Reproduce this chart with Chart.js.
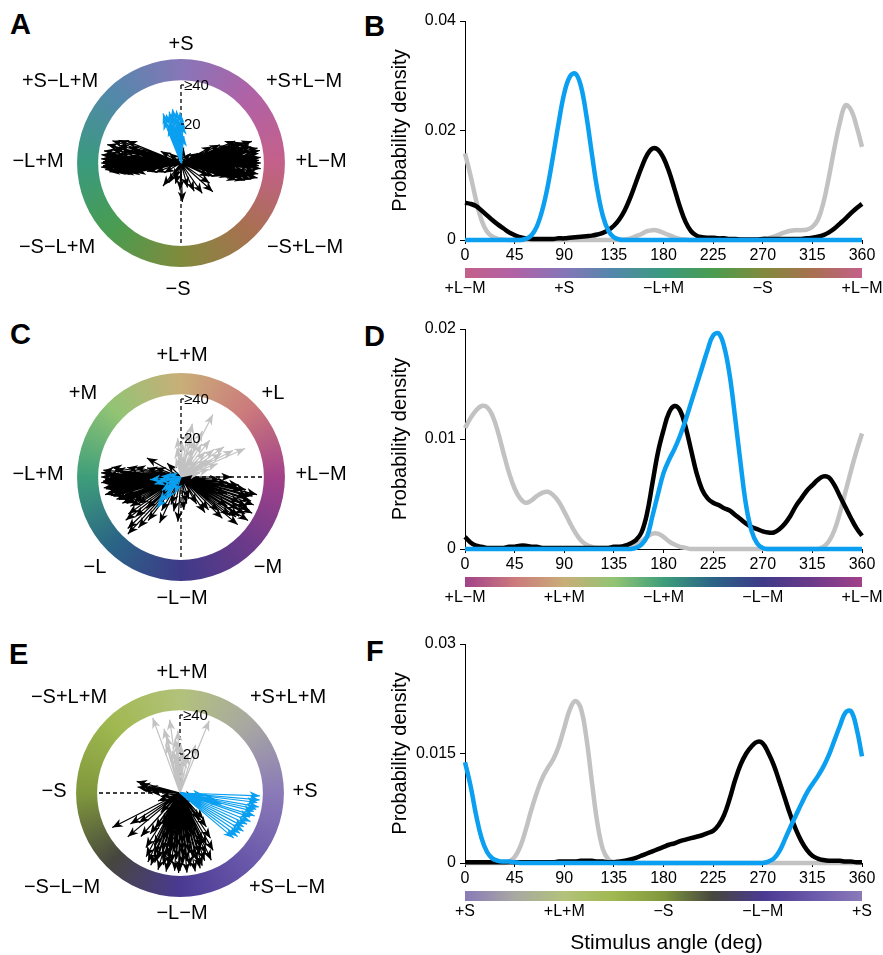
<!DOCTYPE html>
<html>
<head>
<meta charset="utf-8">
<title>Cone-contrast tuning</title>
<script src="https://cdn.jsdelivr.net/npm/chart.js"></script>
<style>
  html, body { margin: 0; padding: 0; background: #fff; }
  body { width: 883px; height: 955px; position: relative; overflow: hidden; font-family: 'Liberation Sans', Arial, sans-serif; }
  canvas { position: absolute; }
  .tag { position: absolute; font-weight: bold; font-size: 29px; line-height: 30px; }
</style>
</head>
<body>
<div class="tag" style="left:10px;top:9px">A</div>
<div class="tag" style="left:364px;top:11px">B</div>
<div class="tag" style="left:10px;top:319px">C</div>
<div class="tag" style="left:364px;top:321px">D</div>
<div class="tag" style="left:9px;top:639px">E</div>
<div class="tag" style="left:366px;top:636px">F</div>
<canvas id="polarA"></canvas>
<canvas id="polarC"></canvas>
<canvas id="polarE"></canvas>
<canvas id="densB"></canvas>
<canvas id="densD"></canvas>
<canvas id="densF"></canvas>
<script>
// ---- data ----
// stimulus angle grid for the density curves (deg)
const angles = [];
for (let a = 0; a <= 360; a += 5) angles.push(a);
const xTicks = [0, 45, 90, 135, 180, 225, 270, 315, 360];

// B: S vs L-M plane
const blueB = [0,0,0,0,0,0,0,0,0,0,0,0.0002,0.0008,0.0024,0.0054,0.0098,0.0155,0.0215,0.0268,0.0298,0.0304,0.0282,0.0228,0.0158,0.0092,0.0044,0.0017,0.0005,0.0001,
  0,0,0,0,0,0,0,0,0,0,0,0,0,0,0,0,0,0,0,0,0,0,0,0,0,0,0,0,0,0,0,0,0,0,0,0,0,0,0,0,0,0,0,0];
const blackB = [0.0068,0.0066,0.0062,0.0054,0.0045,0.0036,0.0028,0.0021,0.0014,0.0009,0.0005,0.0003,0.0002,0.0002,0.0002,0.0002,0.0002,0.0003,0.0003,0.0004,0.0005,0.0006,0.0007,0.0008,0.001,0.0013,0.0018,0.0026,0.0038,0.0055,0.0078,0.0105,0.0132,0.0155,0.0167,0.0165,0.015,0.0125,0.0093,0.006,0.0033,0.0016,0.0008,0.0005,0.0004,0.0004,0.0003,0.0003,0.0002,0.0002,0.0001,0.0001,0.0001,0.0001,0.0002,0.0002,0.0002,0.0002,0.0002,0.0002,0.0002,0.0002,0.0003,0.0004,0.0006,0.0009,0.0014,0.0021,0.003,0.0039,0.0049,0.0058,0.0066];
const grayB = [0.0158,0.0118,0.0073,0.0036,0.0015,0.0006,0.0002,0.0001,0,
  0,0,0,0,0,0,0,0,0,0,0,0,0,0,0,0,0,0,0,0,
  0.0001,0.0003,0.0007,0.0011,0.0016,0.0018,0.0017,0.0013,0.0009,0.0005,0.0002,0.0001,
  0,0,0,0,0,0,0,0,0,0,0,0,0,
  0.0001,0.0003,0.0006,0.001,0.0014,0.0017,0.0018,0.0018,0.0019,0.0024,0.0037,0.0068,0.0115,0.0168,0.0215,0.0246,0.0238,0.0208,0.017];
const yTicksB = [0, 0.02, 0.04];

// D: L-M vs L+M plane
const blueD = [0,0,0,0,0,0,0,0,0,0,0,0,0,0,0,0,0,0,0,0,0,0,0,0,0,0,0,0,0,0,0,
  0.0001,0.0004,0.0011,0.003,0.005,0.0069,0.0081,0.0091,0.0103,0.0117,0.0133,0.0149,0.0165,0.0181,0.0194,0.0196,0.0184,0.0158,0.0119,0.0077,0.0039,0.0016,0.0005,0.0001,0,
  0,0,0,0,0,0,0,0,0,0,0,0,0,0,0,0,0];
const blackD = [0.0011,0.0006,0.0003,0.0002,0.0001,0.0001,0.0001,0.0001,0.0002,0.0002,0.0003,0.0003,0.0002,0.0002,0.0001,0.0001,0.0001,0.0001,0.0001,0.0001,0.0001,0.0001,0.0001,0.0001,0.0001,0.0001,0.0001,0.0002,0.0002,0.0003,0.0005,0.0008,0.0015,0.0032,0.006,0.0088,0.0108,0.0124,0.013,0.0126,0.0111,0.009,0.0069,0.0054,0.0046,0.0042,0.004,0.0037,0.0035,0.0031,0.0027,0.0023,0.002,0.0018,0.0016,0.0015,0.0015,0.0018,0.0023,0.003,0.0039,0.0046,0.0053,0.0058,0.0063,0.0066,0.0065,0.0058,0.0048,0.0038,0.0028,0.0019,0.0012];
const grayD = [0.011,0.0119,0.0126,0.013,0.0129,0.0121,0.0106,0.0087,0.0069,0.0055,0.0046,0.0042,0.0044,0.0048,0.0051,0.0052,0.0049,0.0043,0.0034,0.0024,0.0015,0.0008,0.0004,0.0002,0.0001,0.0001,0.0001,0.0001,0.0001,0.0001,0.0002,0.0004,0.0007,0.0011,0.0014,0.0014,0.0011,0.0007,0.0004,0.0002,0.0001,
  0,0,0,0,0,0,0,0,0,0,0,0,0,0,0,0,0,0,0,0,0,0,0,0,
  0.0002,0.0007,0.0017,0.0033,0.0052,0.0071,0.0089,0.0105];
const yTicksD = [0, 0.01, 0.02];

// F: S vs L+M plane
const blueF = [0.0138,0.0106,0.0066,0.0034,0.0015,0.0006,0.0003,0.0002,0.0002,0.0001,
  0,0,0,0,0,0,0,0,0,0,0,0,0,0,0,0,0,0,0,0,0,0,0,0,0,0,0,0,0,0,0,0,0,0,0,0,0,0,0,0,0,0,0,0,0,
  0.0002,0.0006,0.0016,0.0032,0.0049,0.0065,0.0081,0.0096,0.0108,0.0119,0.0132,0.0148,0.0168,0.0188,0.0206,0.0208,0.0185,0.0146];
const grayF = [0,0,0,0,0,0,0,0,
  0.0002,0.0008,0.0022,0.0045,0.0072,0.0096,0.0116,0.013,0.0142,0.016,0.0185,0.021,0.0222,0.0212,0.0172,0.0112,0.0055,0.0019,0.0005,0.0001,
  0,0,0,0,0,0,0,0,0,0,0,0,0,0,0,0,0,0,0,0,0,0,0,0,0,0,0,0,0,0,0,0,0,0,0,0,0,0,0,0,0,0,0,0,0];
const blackF = [0.0001,0.0001,0.0001,0.0001,0.0001,0.0001,0.0001,0.0001,0.0001,0.0001,0.0001,0.0001,0.0001,0.0001,0.0001,0.0001,0.0001,0.0002,0.0002,0.0002,0.0002,0.0003,0.0003,0.0003,0.0002,0.0002,0.0001,0.0001,0.0002,0.0003,0.0005,0.0007,0.001,0.0013,0.0016,0.0019,0.0022,0.0025,0.0027,0.003,0.0032,0.0034,0.0036,0.0038,0.0041,0.0044,0.0052,0.0066,0.0088,0.0114,0.0135,0.015,0.016,0.0166,0.0164,0.0151,0.0134,0.0112,0.0089,0.0066,0.0046,0.003,0.0018,0.001,0.0006,0.0004,0.0003,0.0003,0.0003,0.0002,0.0002,0.0001,0.0001];
const yTicksF = [0, 0.015, 0.03];

// preferred-direction arrows: [angle deg, length]
const blackA = [[158,30],[160,34],[162,37],[164,33],[166,39],[168,30],[169,36],[171,40],[172,26],[173,34],[174,41],[175,38],[176,30],[177,41],[178,36],[179,40],[180,41],[181,38],[182,35],[183,41],[184,32],[185,39],[186,36],[187,28],[188,34],[190,30],[192,24],[194,18],[170,20],[176,16],[165,24],[180,28],[184,22],[172,14],
  [171,32],[173,38],[176,36],[178,39],[180,35],[182,40],[185,33],[187,37],[189,32],[191,27],[175,24],[179,33],[183,37],[167,35],[163,28],
  [0,41],[1,36],[2,40],[3,32],[4,41],[5,38],[6,34],[7,40],[8,30],[9,38],[10,35],[11,40],[12,32],[13,37],[14,28],[15,36],[16,30],[18,34],[20,26],[22,30],[25,22],[28,18],[358,40],[356,41],[354,38],[352,40],[350,36],[348,33],[346,30],[344,26],[342,22],[338,18],[5,24],[10,20],[355,28],[2,18],
  [1,39],[3,38],[5,35],[7,33],[9,41],[11,30],[13,34],[357,36],[353,33],[351,38],[349,40],[347,37],[345,34],[343,30],[359,38],[4,28],[17,38],[19,31],
  [272,20],[268,14],[232,15],[238,12],[245,9],[255,11],[285,13],[295,16],[305,19],[318,22],[325,18],[335,16],[210,10],[200,14],[150,12],[140,8],[30,10],[45,7],[100,6],[80,8]];
const blueA = [[84,14],[87,20],[89,23],[91,26],[93,22],[95,27],[97,24],[99,28],[101,25],[103,27],[105,22],[107,26],[109,20],[96,18],[100,16],[92,16],[104,18],[112,24],[110,27]];

const blackC = [[151,20],[0,26],
  [172,36],[175,40],[178,38],[180,41],[182,39],[184,41],[186,37],[188,40],[190,35],[192,38],[194,33],[196,36],[198,30],[200,34],[203,28],[206,31],[176,30],[170,28],[168,24],[165,18],[183,25],[190,22],[197,20],[202,31],
  [174,34],[177,41],[179,37],[181,35],[183,40],[185,38],[187,34],[189,39],[191,36],[193,40],[195,37],[199,35],[201,30],[204,33],[208,27],[210,30],
  [215,33],[218,36],[221,31],[224,38],[227,40],[230,34],[233,28],[212,26],[222,24],
  [266,23],[258,18],[250,15],[275,17],[282,14],[240,20],[245,26],[290,12],[304,22],
  [300,16],[310,22],[318,26],[322,32],[326,36],[327,41],[330,38],[333,41],[336,37],[339,40],[342,35],[345,38],[348,32],[350,28],[353,24],[356,20],[315,30],[320,38],[328,28],[340,25],[345,20],
  [324,35],[331,34],[334,39],[337,33],[341,38],[344,36],[347,40],[349,34],[352,30],
  [10,8],[20,6],[135,10],[160,14]];
const grayC = [[63,36],[24,36],[95,20],[98,15],[88,18],[82,24],[75,21],[69,16],[69,20],[58,20],[52,24],[46,18],[40,22],[35,27],[30,24],[29,18],[27,30],[20,20],[15,15],[12,10],[60,12],[90,12],[105,10],[78,28],[45,12],[33,16],[65,26],[80,10]];
const blueC = [[185,16],[190,12],[178,10],[195,14],[232,20],[228,17],[236,14],[222,11],[218,8],[205,8],[250,9],[215,12],[170,7]];

const blackE = [[172,22],[168,21],[175,19],[165,23],[170,17],[178,15],
  [207,39],[220,35],[212,30],[216,26],[228,30],[234,26],[238,33],[242,37],[245,39],[248,40],[251,36],[254,41],[257,38],[260,41],[263,36],[266,40],[269,41],[272,37],[275,41],[278,38],[281,41],[284,36],[287,39],[290,37],[293,34],[295,38],[297,30],[300,34],[304,28],[306,17],[308,22],[312,18],[340,8],[330,10],
  [250,26],[258,28],[265,24],[272,30],[280,26],[286,22],[255,20],[268,18],[278,15],[240,18],[292,16],[235,22],[246,14],[262,12],[285,10],[225,14],[200,12],[190,10],
  [244,30],[247,34],[250,38],[253,31],[256,35],[259,33],[261,38],[264,30],[267,34],[270,40],[273,33],[276,35],[279,31],[282,34],[285,40],[288,33],[291,30],[294,28],
  [252,22],[258,24],[264,20],[270,22],[276,20],[282,18],[288,24],[249,16],[261,30],[273,26],[267,28]];
const grayE = [[110,41],[98,38],[68,40],[104,34],[103,30],[95,28],[92,32],[93,26],[89,25],[86,22],[83,18],[100,22],[106,26],[97,20],[93,16],[88,14],[78,20],[72,26]];
const blueE = [[358,41],[355,41],[353,40],[350,41],[348,40],[346,39],[343,40],[341,38],[338,39],[335,38],[332,37],[329,38],[326,37],[323,37],[320,36],[345,22],[350,18],[356,12]];

// colour wheel stops (angle deg -> colour)
const wheelAngles = [0, 45, 90, 135, 180, 225, 270, 315];
const wheelSLM = ['#c4608a', '#b062a6', '#8676b8', '#5288aa', '#3a9a7e', '#4a9c50', '#808a3c', '#a87050'];
const wheelLM  = ['#a2428a', '#cc7a7c', '#c8ae78', '#92c474', '#3e9e7a', '#2a6486', '#3e3a88', '#6c3a8a'];
const wheelSLMsum = ['#8a7ab8', '#a8a8a2', '#b2c27a', '#a0b850', '#80983c', '#46463e', '#4a3a92', '#6a58aa'];

const labelsA = [['+S',0,-119],['+S−L+M',-121,-82],['+S+L−M',123,-82],['−L+M',-143,-2],['+L−M',140,-2],['−S−L+M',-124,84],['−S+L−M',124,84],['−S',-3,126]];
const labelsC = [['+L+M',1,-122],['+M',-98,-84],['+L',92,-84],['−L+M',-143,-3],['+L−M',140,-3],['−L',-86,90],['−M',87,90],['−L−M',1,121]];
const labelsE = [['+L+M',2,-121],['−S+L+M',-111,-96],['+S+L+M',108,-96],['−S',-126,-2],['+S',125,-2],['−S−L−M',-118,94],['+S−L−M',107,94],['−L−M',2,120]];

const barAngles = [0, 90, 180, 270, 360];
const barLabelsB = ['+L−M', '+S', '−L+M', '−S', '+L−M'];
const barLabelsD = ['+L−M', '+L+M', '−L+M', '−L−M', '+L−M'];
const barLabelsF = ['+S', '+L+M', '−S', '−L−M', '+S'];

// ---- drawing ----
const FONT = "'Liberation Sans', Arial, sans-serif";
Chart.defaults.font.family = FONT;
Chart.defaults.color = '#000';
const BLUE = '#0a9ff0', GRAY = '#c2c2c2';

function arrowData(list) {
  const d = [];
  list.forEach(([a, r]) => {
    const t = a * Math.PI / 180;
    d.push({x: 0, y: 0}, {x: r * Math.cos(t), y: r * Math.sin(t)}, {x: 0, y: null});
  });
  return d;
}

const arrowHeads = {
  id: 'arrowHeads',
  afterDatasetDraw(chart, args) {
    const ds = chart.data.datasets[args.index];
    if (!ds.arrowHead) return;
    const pts = args.meta.data, ctx = chart.ctx;
    ctx.save();
    ctx.fillStyle = ds.borderColor;
    for (let i = 0; i + 1 < pts.length; i += 3) {
      const a = pts[i], b = pts[i + 1];
      const ang = Math.atan2(b.y - a.y, b.x - a.x);
      const c = Math.cos(ang), s = Math.sin(ang);
      const L = 10.5, w = 4.2, n = 7.5;
      ctx.beginPath();
      ctx.moveTo(b.x, b.y);
      ctx.lineTo(b.x - L * c - w * s, b.y - L * s + w * c);
      ctx.lineTo(b.x - n * c, b.y - n * s);
      ctx.lineTo(b.x - L * c + w * s, b.y - L * s - w * c);
      ctx.closePath();
      ctx.fill();
    }
    ctx.restore();
  }
};

function polarChart(id, cx, cy, p) {
  const W = 362, H = 320, k = 1.95;
  const cv = document.getElementById(id);
  cv.width = W; cv.height = H;
  cv.style.left = (cx - W / 2) + 'px';
  cv.style.top = (cy - H / 2) + 'px';

  const arrowSet = (list, color) => ({
    data: arrowData(list), showLine: true, spanGaps: false, borderColor: color, backgroundColor: color,
    borderWidth: 1.2, pointRadius: 0, arrowHead: true, clip: false
  });
  const datasets = [];
  if (p.blue) datasets.push(arrowSet(p.blue, BLUE));
  if (p.gray) datasets.push(arrowSet(p.gray, GRAY));
  datasets.push(arrowSet(p.black, '#000'));
  datasets.push({data: p.axis, showLine: true, spanGaps: false, borderColor: '#000', borderWidth: 1.3,
    borderDash: [4, 3], pointRadius: 0, clip: false});

  const ring = {
    id: 'ring',
    beforeDatasetsDraw(chart) {
      const {ctx, scales: {x, y}} = chart;
      const ox = x.getPixelForValue(0), oy = y.getPixelForValue(0);
      const rIn = x.getPixelForValue(42.5) - ox, rOut = x.getPixelForValue(53.3) - ox;
      const g = ctx.createConicGradient(0, ox, oy);
      wheelAngles.forEach((a, i) => g.addColorStop(((360 - a) % 360) / 360, p.wheel[i]));
      g.addColorStop(1, p.wheel[0]);
      ctx.save();
      ctx.beginPath();
      ctx.arc(ox, oy, rOut, 0, 2 * Math.PI);
      ctx.arc(ox, oy, rIn, 0, 2 * Math.PI, true);
      ctx.fillStyle = g;
      ctx.fill();
      ctx.restore();
    },
    afterDraw(chart) {
      const {ctx, scales: {x, y}} = chart;
      const ox = x.getPixelForValue(0), oy = y.getPixelForValue(0);
      ctx.save();
      ctx.fillStyle = '#000';
      ctx.textBaseline = 'middle';
      ctx.font = '15px ' + FONT;
      ctx.textAlign = 'left';
      [[40, '≥40'], [20, '20']].forEach(([r, t]) => {
        const py = y.getPixelForValue(r);
        ctx.fillRect(ox, py - 0.6, 3, 1.2);
        ctx.fillText(t, ox + 3, py + 1);
      });
      ctx.font = '20px ' + FONT;
      ctx.textAlign = 'center';
      p.labels.forEach(([t, dx, dy]) => ctx.fillText(t, ox + dx, oy + dy));
      ctx.restore();
    }
  };

  new Chart(cv, {
    type: 'scatter',
    data: {datasets},
    options: {
      responsive: false, animation: false, events: [],
      layout: {padding: 0},
      plugins: {legend: {display: false}, tooltip: {enabled: false}},
      scales: {
        x: {type: 'linear', display: false, min: -W / 2 / k, max: W / 2 / k},
        y: {type: 'linear', display: false, min: -H / 2 / k, max: H / 2 / k}
      }
    },
    plugins: [ring, arrowHeads]
  });
}

function densityChart(id, p) {
  const left = 370, W = 513, padTop = 16;
  const H = padTop + (p.bottom - p.top) + p.xh;
  const cv = document.getElementById(id);
  cv.width = W; cv.height = H;
  cv.style.left = left + 'px';
  cv.style.top = (p.top - padTop) + 'px';

  const pts = vals => angles.map((a, i) => ({x: a, y: vals[i]}));
  const line = (vals, color) => ({
    data: pts(vals), borderColor: color, borderWidth: 4.5, pointRadius: 0,
    tension: 0.4, borderJoinStyle: 'round', clip: false
  });

  const bar = {
    id: 'colourBar',
    afterDraw(chart) {
      const {ctx, chartArea, scales: {x}} = chart;
      const x0 = x.getPixelForValue(0), x1 = x.getPixelForValue(360);
      const y0 = chartArea.bottom + 28;
      const g = ctx.createLinearGradient(x0, 0, x1, 0);
      wheelAngles.forEach((a, i) => g.addColorStop(a / 360, p.wheel[i]));
      g.addColorStop(1, p.wheel[0]);
      ctx.save();
      ctx.fillStyle = g;
      ctx.fillRect(x0, y0, x1 - x0, 10);
      ctx.fillStyle = '#000';
      ctx.font = '16px ' + FONT;
      ctx.textAlign = 'center';
      ctx.textBaseline = 'middle';
      barAngles.forEach((a, i) => ctx.fillText(p.barLabels[i], x.getPixelForValue(a), chartArea.bottom + 49));
      if (p.xTitle) {
        ctx.font = '21px ' + FONT;
        ctx.fillText(p.xTitle, (chartArea.left + chartArea.right) / 2 + 3, chartArea.bottom + 80);
      }
      ctx.restore();
    }
  };

  new Chart(cv, {
    type: 'line',
    data: {datasets: [line(p.blue, BLUE), line(p.black, '#000'), line(p.gray, GRAY)]},
    options: {
      responsive: false, animation: false, events: [],
      layout: {padding: {top: padTop, right: W - (862 - left), left: 0, bottom: 0}},
      plugins: {legend: {display: false}, tooltip: {enabled: false}},
      scales: {
        x: {
          type: 'linear', min: 0, max: 360,
          afterBuildTicks: s => { s.ticks = xTicks.map(v => ({value: v})); },
          afterFit: s => { s.height = p.xh; },
          ticks: {font: {size: 16}, color: '#000', padding: 2, maxRotation: 0, autoSkip: false},
          grid: {drawOnChartArea: false, drawTicks: true, tickLength: 4, color: '#000'},
          border: {display: true, color: '#000', width: 1}
        },
        y: {
          type: 'linear', min: 0, max: p.yTicks[p.yTicks.length - 1],
          afterBuildTicks: s => { s.ticks = p.yTicks.map(v => ({value: v})); },
          afterFit: s => { s.width = 95; },
          ticks: {font: {size: 16}, color: '#000', padding: 4,
            callback: v => v === 0 ? '0' : String(+v.toFixed(3))},
          grid: {drawOnChartArea: false, drawTicks: true, tickLength: 5, color: '#000'},
          border: {display: true, color: '#000', width: 1},
          title: {display: true, text: 'Probability density', font: {size: 20}, padding: {top: 18, bottom: 0}}
        }
      }
    },
    plugins: [bar]
  });
}

polarChart('polarA', 181, 163, {
  black: blackA, blue: blueA, wheel: wheelSLM, labels: labelsA,
  axis: [{x: 0, y: 40}, {x: 0, y: -42.5}]
});
polarChart('polarC', 181, 477, {
  black: blackC, gray: grayC, blue: blueC, wheel: wheelLM, labels: labelsC,
  axis: [{x: 0, y: 40}, {x: 0, y: -42.5}, {x: 0, y: null}, {x: 0, y: 0}, {x: 42.5, y: 0}]
});
polarChart('polarE', 180, 793, {
  black: blackE, gray: grayE, blue: blueE, wheel: wheelSLMsum, labels: labelsE,
  axis: [{x: 0, y: 40}, {x: 0, y: 0}, {x: 0, y: null}, {x: 0, y: 0}, {x: -42.5, y: 0}]
});

densityChart('densB', {top: 21, bottom: 240, xh: 65, yTicks: yTicksB,
  blue: blueB, black: blackB, gray: grayB, wheel: wheelSLM, barLabels: barLabelsB});
densityChart('densD', {top: 329, bottom: 549, xh: 65, yTicks: yTicksD,
  blue: blueD, black: blackD, gray: grayD, wheel: wheelLM, barLabels: barLabelsD});
densityChart('densF', {top: 644, bottom: 863, xh: 90, yTicks: yTicksF,
  blue: blueF, black: blackF, gray: grayF, wheel: wheelSLMsum, barLabels: barLabelsF,
  xTitle: 'Stimulus angle (deg)'});
</script>
</body>
</html>
